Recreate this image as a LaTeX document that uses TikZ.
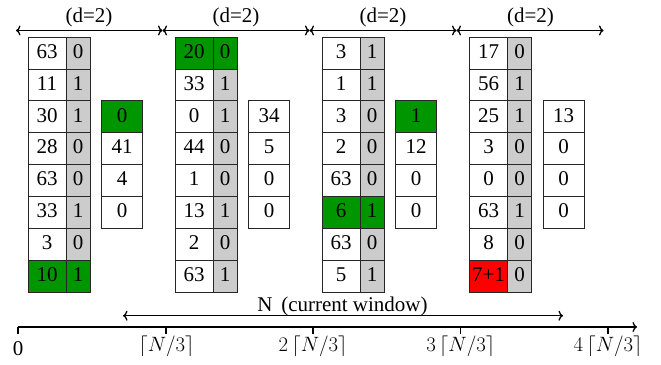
\documentclass[tikz,border=0pt]{standalone}
\usepackage{fontspec}
\setmainfont{Liberation Serif}
\usetikzlibrary{arrows.meta}
\definecolor{cgreen}{RGB}{0,150,0}
\definecolor{cgray}{RGB}{204,204,204}
\definecolor{cred}{RGB}{255,0,0}
\newcommand\mkblock[4]{%
  \foreach \v/\g/\sv/\sg [count=\r] in {#3}{%
    \node[vcell,\sv] (#2v\r) at ({#1+19},{37+(\r-0.5)*31.9}) {\v};
    \node[gcell,\sg] (#2g\r) at ({#1+50},{37+(\r-0.5)*31.9}) {\g};
  }%
  \foreach \t/\s [count=\r from 3] in {#4}{%
    \node[tcell,\s] (#2t\r) at ({#1+94},{37+(\r-0.5)*31.9}) {\t};
  }%
}
\begin{document}
\fontsize{21}{24}\selectfont
\begin{tikzpicture}[x=1pt,y=-1pt,
  every node/.style={font=\fontsize{21}{24}\selectfont},
  cell/.style={draw=black!85,line width=0.8pt,inner sep=0pt,outer sep=0pt,
    minimum height=31.9pt,text height=14.5pt,text depth=4pt,anchor=center},
  vcell/.style={cell,minimum width=38pt},
  gcell/.style={cell,minimum width=24pt},
  tcell/.style={cell,minimum width=41pt},
  wh/.style={fill=white}, gr/.style={fill=cgreen}, rd/.style={fill=cred}, gy/.style={fill=cgray},
  tip/.tip={To[length=4.5pt,width=10pt]},
  arr/.style={line width=1.3pt,tip-tip},
  axis/.style={line width=1.3pt},
  lab/.style={inner sep=0pt,anchor=base}]
\useasboundingbox (0,0) rectangle (661,364);

\mkblock{28}{a}{63/0/wh/gy,11/1/wh/gy,30/1/wh/gy,28/0/wh/gy,63/0/wh/gy,33/1/wh/gy,3/0/wh/gy,10/1/gr/gr}{0/gr,41/wh,4/wh,0/wh}
\mkblock{175}{b}{20/0/gr/gr,33/1/wh/gy,0/1/wh/gy,44/0/wh/gy,1/0/wh/gy,13/1/wh/gy,2/0/wh/gy,63/1/wh/gy}{34/wh,5/wh,0/wh,0/wh}
\mkblock{322}{c}{3/1/wh/gy,1/1/wh/gy,3/0/wh/gy,2/0/wh/gy,63/0/wh/gy,6/1/gr/gr,63/0/wh/gy,5/1/wh/gy}{1/gr,12/wh,0/wh,0/wh}
\mkblock{469.5}{d}{17/0/wh/gy,56/1/wh/gy,25/1/wh/gy,3/0/wh/gy,0/0/wh/gy,63/1/wh/gy,8/0/wh/gy,7+1/0/rd/gy}{13/wh,0/wh,0/wh,0/wh}

% top window arrows
\coordinate (p0) at (16,30.5);
\coordinate (p1) at (162.5,30.5);
\coordinate (p2) at (309.5,30.5);
\coordinate (p3) at (456.5,30.5);
\coordinate (p4) at (603.5,30.5);
\draw[arr] (p0) -- (p1);
\draw[arr] (p1) -- (p2);
\draw[arr] (p2) -- (p3);
\draw[arr] (p3) -- (p4);
\node[lab] (d1) at (89,22) {(d=2)};
\node[lab] (d2) at (236,22) {(d=2)};
\node[lab] (d3) at (383,22) {(d=2)};
\node[lab] (d4) at (530.5,22) {(d=2)};

% current window
\coordinate (w0) at (123,315.7);
\coordinate (w1) at (563,315.7);
\draw[arr] (w0) -- (w1);
\node[lab] (wl) at (342.5,311.3) {N \,(current window)};

% axis
\coordinate (x0) at (18,327);
\coordinate (x1) at (166,327);
\coordinate (x2) at (313,327);
\coordinate (x3) at (460.7,327);
\coordinate (x4) at (608,327);
\coordinate (xe) at (637,327);
\draw[axis,-tip] (x0) -- (xe);
\foreach \i in {0,...,4}{\draw[axis] (x\i) -- ++(0,6.5);}
\node[lab] (l0) at (18,355) {0};
\node[lab] (l1) at (166.5,351) {$\lceil N/3\rceil$};
\node[lab] (l2) at (313,351) {$2\left\lceil N/3\right\rceil$};
\node[lab] (l3) at (460.7,351) {$3\left\lceil N/3\right\rceil$};
\node[lab] (l4) at (608,351) {$4\left\lceil N/3\right\rceil$};
\end{tikzpicture}
\end{document}
